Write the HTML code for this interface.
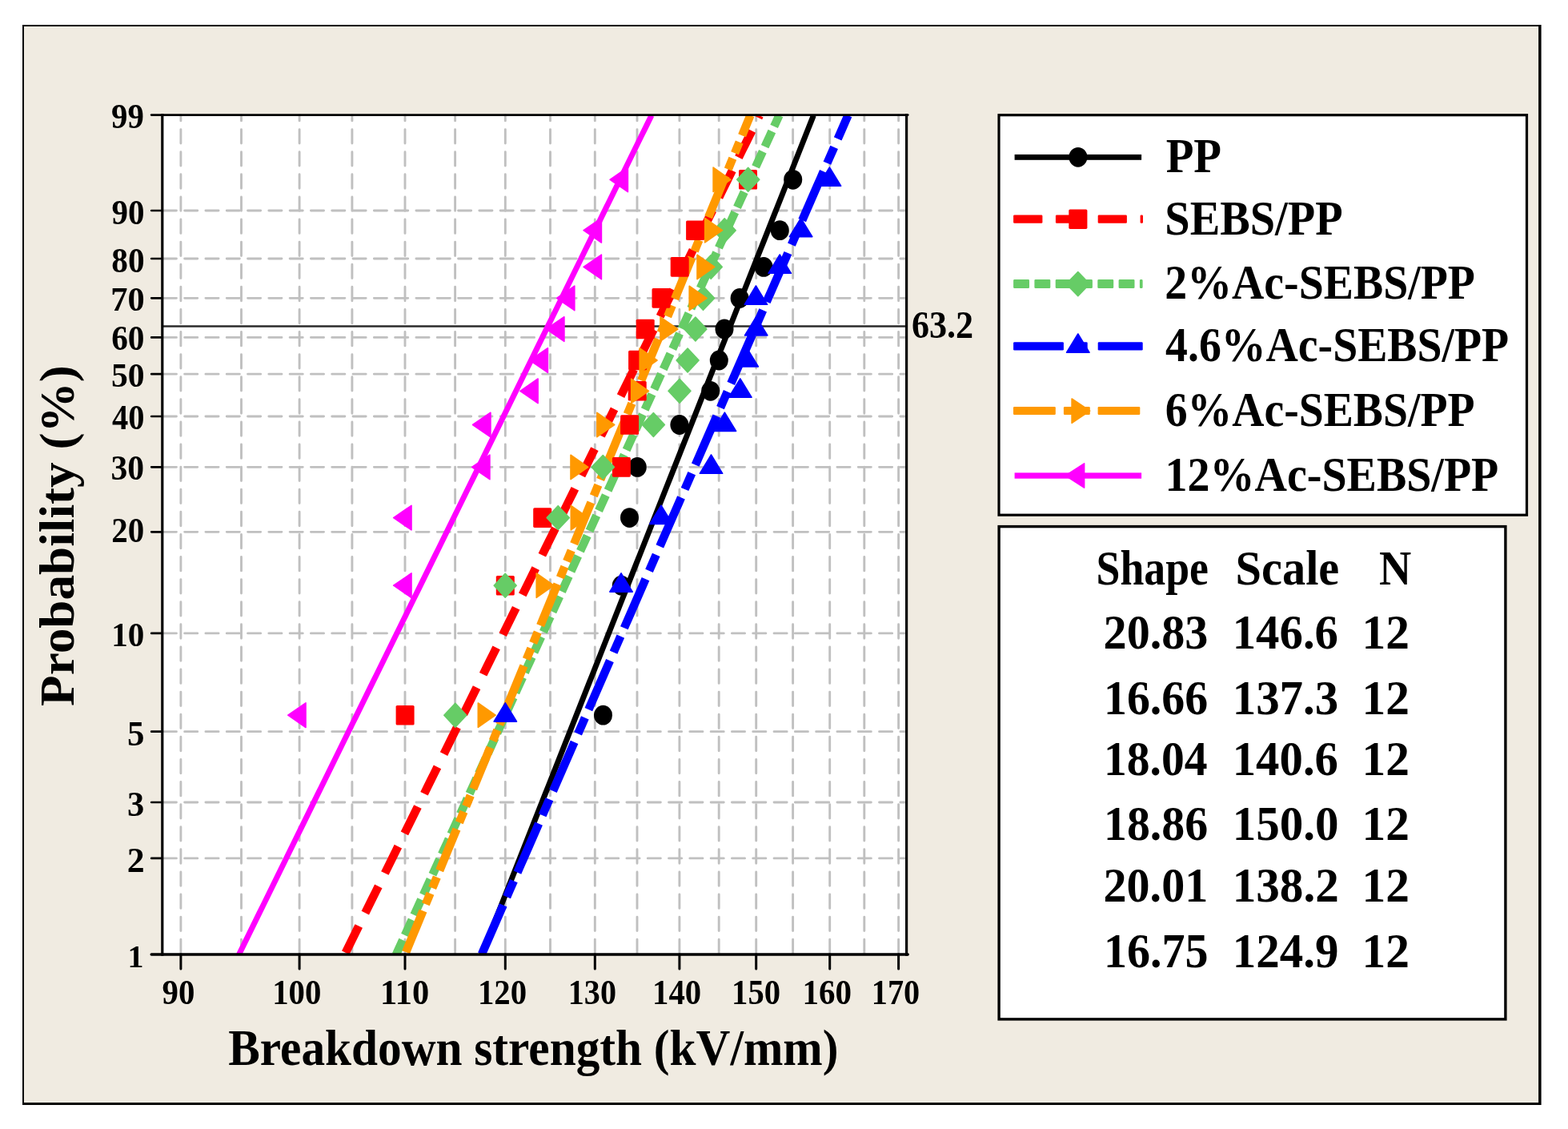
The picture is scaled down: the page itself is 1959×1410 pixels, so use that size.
<!DOCTYPE html>
<html><head><meta charset="utf-8"><title>Weibull probability plot</title>
<style>html,body{margin:0;padding:0;background:#fff;overflow:hidden}svg{display:block}</style>
</head><body>
<svg width="1959" height="1410" viewBox="0 0 1959 1410">
<defs><clipPath id="pc"><rect x="202.8" y="143.6" width="929.8" height="1048.3"/></clipPath></defs>
<rect x="0" y="0" width="1959" height="1410" fill="#ffffff"/>
<rect x="28" y="31" width="1897.6" height="1349" fill="#000"/>
<rect x="30" y="33" width="1892.1" height="1344" fill="#f0ebe1"/>
<rect x="202.8" y="143.6" width="929.8" height="1048.3000000000002" fill="#fff"/>
<path d="M225.9 1190.6V143.6M301.5 1190.6V143.6M374.1 1190.6V143.6M439.9 1190.6V143.6M506.0 1190.6V143.6M568.6 1190.6V143.6M631.3 1190.6V143.6M687.5 1190.6V143.6M743.3 1190.6V143.6M796.0 1190.6V143.6M848.9 1190.6V143.6M898.2 1190.6V143.6M944.7 1190.6V143.6M990.6 1190.6V143.6M1036.7 1190.6V143.6M1079.8 1190.6V143.6M1122.6 1190.6V143.6" stroke="#c0c0c0" stroke-width="2.9" stroke-dasharray="17.4 10.7" stroke-linecap="round" fill="none"/>
<path d="M204.3 263.0H1132.6M204.3 323.0H1132.6M204.3 372.3H1132.6M204.3 421.4H1132.6M204.3 467.2H1132.6M204.3 520.0H1132.6M204.3 583.3H1132.6M204.3 664.3H1132.6M204.3 790.9H1132.6M204.3 913.7H1132.6M204.3 1002.0H1132.6M204.3 1071.9H1132.6" stroke="#c0c0c0" stroke-width="2.8" stroke-dasharray="16.2 10.1" stroke-linecap="round" fill="none"/>
<path d="M202.8 407.5H1132.6" stroke="#2b2b2b" stroke-width="2.7" fill="none"/>
<path d="M601.80 1192.32 L605.26 1183.59 L608.71 1174.85 L612.17 1166.12 L615.62 1157.38 L619.08 1148.65 L622.53 1139.91 L625.99 1131.18 L629.44 1122.44 L632.89 1113.71 L636.35 1104.97 L639.80 1096.24 L643.26 1087.50 L646.71 1078.77 L650.17 1070.03 L653.62 1061.29 L657.08 1052.56 L660.53 1043.82 L663.99 1035.09 L667.44 1026.35 L670.90 1017.62 L674.35 1008.88 L677.81 1000.15 L681.26 991.41 L684.71 982.68 L688.17 973.94 L691.62 965.21 L695.08 956.47 L698.53 947.74 L701.99 939.00 L705.44 930.27 L708.90 921.53 L712.35 912.80 L715.81 904.06 L719.26 895.33 L722.72 886.59 L726.17 877.86 L729.63 869.12 L733.08 860.39 L736.54 851.65 L739.99 842.92 L743.44 834.18 L746.90 825.45 L750.35 816.71 L753.81 807.98 L757.26 799.24 L760.72 790.51 L764.17 781.77 L767.63 773.04 L771.08 764.30 L774.54 755.57 L777.99 746.83 L781.45 738.10 L784.90 729.36 L788.36 720.63 L791.81 711.89 L795.26 703.16 L798.72 694.42 L802.17 685.69 L805.63 676.95 L809.08 668.22 L812.54 659.48 L815.99 650.75 L819.45 642.01 L822.90 633.28 L826.36 624.54 L829.81 615.81 L833.27 607.07 L836.72 598.34 L840.18 589.60 L843.63 580.87 L847.09 572.13 L850.54 563.40 L853.99 554.66 L857.45 545.93 L860.90 537.19 L864.36 528.46 L867.81 519.72 L871.27 510.98 L874.72 502.25 L878.18 493.51 L881.63 484.78 L885.09 476.04 L888.54 467.31 L892.00 458.57 L895.45 449.84 L898.91 441.10 L902.36 432.37 L905.81 423.63 L909.27 414.90 L912.72 406.16 L916.18 397.43 L919.63 388.69 L923.09 379.96 L926.54 371.22 L930.00 362.49 L933.45 353.75 L936.91 345.02 L940.36 336.28 L943.82 327.55 L947.27 318.81 L950.73 310.08 L954.18 301.34 L957.64 292.61 L961.09 283.87 L964.54 275.14 L968.00 266.40 L971.45 257.67 L974.91 248.93 L978.36 240.20 L981.82 231.46 L985.27 222.73 L988.73 213.99 L992.18 205.26 L995.64 196.52 L999.09 187.79 L1002.55 179.05 L1006.00 170.32 L1009.46 161.58 L1012.91 152.85 L1016.36 144.11" stroke="#000000" stroke-width="7" fill="none" stroke-linejoin="round" clip-path="url(#pc)"/>
<path d="M430.53 1192.32 L434.85 1183.59 L439.17 1174.85 L443.49 1166.12 L447.81 1157.38 L452.13 1148.65 L456.45 1139.91 L460.77 1131.18 L465.09 1122.44 L469.41 1113.71 L473.73 1104.97 L478.05 1096.24 L482.37 1087.50 L486.69 1078.77 L491.01 1070.03 L495.33 1061.29 L499.64 1052.56 L503.96 1043.82 L508.28 1035.09 L512.60 1026.35 L516.92 1017.62 L521.24 1008.88 L525.56 1000.15 L529.88 991.41 L534.20 982.68 L538.52 973.94 L542.84 965.21 L547.16 956.47 L551.48 947.74 L555.80 939.00 L560.12 930.27 L564.44 921.53 L568.75 912.80 L573.07 904.06 L577.39 895.33 L581.71 886.59 L586.03 877.86 L590.35 869.12 L594.67 860.39 L598.99 851.65 L603.31 842.92 L607.63 834.18 L611.95 825.45 L616.27 816.71 L620.59 807.98 L624.91 799.24 L629.23 790.51 L633.55 781.77 L637.87 773.04 L642.18 764.30 L646.50 755.57 L650.82 746.83 L655.14 738.10 L659.46 729.36 L663.78 720.63 L668.10 711.89 L672.42 703.16 L676.74 694.42 L681.06 685.69 L685.38 676.95 L689.70 668.22 L694.02 659.48 L698.34 650.75 L702.66 642.01 L706.98 633.28 L711.29 624.54 L715.61 615.81 L719.93 607.07 L724.25 598.34 L728.57 589.60 L732.89 580.87 L737.21 572.13 L741.53 563.40 L745.85 554.66 L750.17 545.93 L754.49 537.19 L758.81 528.46 L763.13 519.72 L767.45 510.98 L771.77 502.25 L776.09 493.51 L780.41 484.78 L784.72 476.04 L789.04 467.31 L793.36 458.57 L797.68 449.84 L802.00 441.10 L806.32 432.37 L810.64 423.63 L814.96 414.90 L819.28 406.16 L823.60 397.43 L827.92 388.69 L832.24 379.96 L836.56 371.22 L840.88 362.49 L845.20 353.75 L849.52 345.02 L853.83 336.28 L858.15 327.55 L862.47 318.81 L866.79 310.08 L871.11 301.34 L875.43 292.61 L879.75 283.87 L884.07 275.14 L888.39 266.40 L892.71 257.67 L897.03 248.93 L901.35 240.20 L905.67 231.46 L909.99 222.73 L914.31 213.99 L918.63 205.26 L922.95 196.52 L927.26 187.79 L931.58 179.05 L935.90 170.32 L940.22 161.58 L944.54 152.85 L948.86 144.11" stroke="#ff0000" stroke-width="10.5" fill="none" stroke-linejoin="round" stroke-dasharray="37.2 18.2" stroke-dashoffset="52.65" clip-path="url(#pc)"/>
<path d="M494.77 1192.32 L498.76 1183.59 L502.75 1174.85 L506.74 1166.12 L510.73 1157.38 L514.72 1148.65 L518.71 1139.91 L522.70 1131.18 L526.69 1122.44 L530.67 1113.71 L534.66 1104.97 L538.65 1096.24 L542.64 1087.50 L546.63 1078.77 L550.62 1070.03 L554.61 1061.29 L558.60 1052.56 L562.59 1043.82 L566.58 1035.09 L570.56 1026.35 L574.55 1017.62 L578.54 1008.88 L582.53 1000.15 L586.52 991.41 L590.51 982.68 L594.50 973.94 L598.49 965.21 L602.48 956.47 L606.47 947.74 L610.45 939.00 L614.44 930.27 L618.43 921.53 L622.42 912.80 L626.41 904.06 L630.40 895.33 L634.39 886.59 L638.38 877.86 L642.37 869.12 L646.36 860.39 L650.34 851.65 L654.33 842.92 L658.32 834.18 L662.31 825.45 L666.30 816.71 L670.29 807.98 L674.28 799.24 L678.27 790.51 L682.26 781.77 L686.24 773.04 L690.23 764.30 L694.22 755.57 L698.21 746.83 L702.20 738.10 L706.19 729.36 L710.18 720.63 L714.17 711.89 L718.16 703.16 L722.15 694.42 L726.13 685.69 L730.12 676.95 L734.11 668.22 L738.10 659.48 L742.09 650.75 L746.08 642.01 L750.07 633.28 L754.06 624.54 L758.05 615.81 L762.04 607.07 L766.02 598.34 L770.01 589.60 L774.00 580.87 L777.99 572.13 L781.98 563.40 L785.97 554.66 L789.96 545.93 L793.95 537.19 L797.94 528.46 L801.93 519.72 L805.91 510.98 L809.90 502.25 L813.89 493.51 L817.88 484.78 L821.87 476.04 L825.86 467.31 L829.85 458.57 L833.84 449.84 L837.83 441.10 L841.81 432.37 L845.80 423.63 L849.79 414.90 L853.78 406.16 L857.77 397.43 L861.76 388.69 L865.75 379.96 L869.74 371.22 L873.73 362.49 L877.72 353.75 L881.70 345.02 L885.69 336.28 L889.68 327.55 L893.67 318.81 L897.66 310.08 L901.65 301.34 L905.64 292.61 L909.63 283.87 L913.62 275.14 L917.61 266.40 L921.59 257.67 L925.58 248.93 L929.57 240.20 L933.56 231.46 L937.55 222.73 L941.54 213.99 L945.53 205.26 L949.52 196.52 L953.51 187.79 L957.50 179.05 L961.48 170.32 L965.47 161.58 L969.46 152.85 L973.45 144.11" stroke="#66cc66" stroke-width="10.5" fill="none" stroke-linejoin="round" stroke-dasharray="21.1 6.66" stroke-dashoffset="1.02" clip-path="url(#pc)"/>
<path d="M601.60 1192.32 L605.42 1183.59 L609.24 1174.85 L613.05 1166.12 L616.87 1157.38 L620.68 1148.65 L624.50 1139.91 L628.31 1131.18 L632.13 1122.44 L635.94 1113.71 L639.76 1104.97 L643.58 1096.24 L647.39 1087.50 L651.21 1078.77 L655.02 1070.03 L658.84 1061.29 L662.65 1052.56 L666.47 1043.82 L670.28 1035.09 L674.10 1026.35 L677.92 1017.62 L681.73 1008.88 L685.55 1000.15 L689.36 991.41 L693.18 982.68 L696.99 973.94 L700.81 965.21 L704.62 956.47 L708.44 947.74 L712.26 939.00 L716.07 930.27 L719.89 921.53 L723.70 912.80 L727.52 904.06 L731.33 895.33 L735.15 886.59 L738.96 877.86 L742.78 869.12 L746.60 860.39 L750.41 851.65 L754.23 842.92 L758.04 834.18 L761.86 825.45 L765.67 816.71 L769.49 807.98 L773.30 799.24 L777.12 790.51 L780.94 781.77 L784.75 773.04 L788.57 764.30 L792.38 755.57 L796.20 746.83 L800.01 738.10 L803.83 729.36 L807.64 720.63 L811.46 711.89 L815.27 703.16 L819.09 694.42 L822.91 685.69 L826.72 676.95 L830.54 668.22 L834.35 659.48 L838.17 650.75 L841.98 642.01 L845.80 633.28 L849.61 624.54 L853.43 615.81 L857.25 607.07 L861.06 598.34 L864.88 589.60 L868.69 580.87 L872.51 572.13 L876.32 563.40 L880.14 554.66 L883.95 545.93 L887.77 537.19 L891.59 528.46 L895.40 519.72 L899.22 510.98 L903.03 502.25 L906.85 493.51 L910.66 484.78 L914.48 476.04 L918.29 467.31 L922.11 458.57 L925.93 449.84 L929.74 441.10 L933.56 432.37 L937.37 423.63 L941.19 414.90 L945.00 406.16 L948.82 397.43 L952.63 388.69 L956.45 379.96 L960.27 371.22 L964.08 362.49 L967.90 353.75 L971.71 345.02 L975.53 336.28 L979.34 327.55 L983.16 318.81 L986.97 310.08 L990.79 301.34 L994.61 292.61 L998.42 283.87 L1002.24 275.14 L1006.05 266.40 L1009.87 257.67 L1013.68 248.93 L1017.50 240.20 L1021.31 231.46 L1025.13 222.73 L1028.95 213.99 L1032.76 205.26 L1036.58 196.52 L1040.39 187.79 L1044.21 179.05 L1048.02 170.32 L1051.84 161.58 L1055.65 152.85 L1059.47 144.11" stroke="#0000ff" stroke-width="10.5" fill="none" stroke-linejoin="round" stroke-dasharray="66.6 11.35 21.8 11.35" stroke-dashoffset="110.20" clip-path="url(#pc)"/>
<path d="M505.89 1192.32 L509.49 1183.59 L513.08 1174.85 L516.68 1166.12 L520.28 1157.38 L523.87 1148.65 L527.47 1139.91 L531.06 1131.18 L534.66 1122.44 L538.26 1113.71 L541.85 1104.97 L545.45 1096.24 L549.05 1087.50 L552.64 1078.77 L556.24 1070.03 L559.83 1061.29 L563.43 1052.56 L567.03 1043.82 L570.62 1035.09 L574.22 1026.35 L577.82 1017.62 L581.41 1008.88 L585.01 1000.15 L588.60 991.41 L592.20 982.68 L595.80 973.94 L599.39 965.21 L602.99 956.47 L606.59 947.74 L610.18 939.00 L613.78 930.27 L617.37 921.53 L620.97 912.80 L624.57 904.06 L628.16 895.33 L631.76 886.59 L635.36 877.86 L638.95 869.12 L642.55 860.39 L646.14 851.65 L649.74 842.92 L653.34 834.18 L656.93 825.45 L660.53 816.71 L664.13 807.98 L667.72 799.24 L671.32 790.51 L674.91 781.77 L678.51 773.04 L682.11 764.30 L685.70 755.57 L689.30 746.83 L692.90 738.10 L696.49 729.36 L700.09 720.63 L703.68 711.89 L707.28 703.16 L710.88 694.42 L714.47 685.69 L718.07 676.95 L721.67 668.22 L725.26 659.48 L728.86 650.75 L732.45 642.01 L736.05 633.28 L739.65 624.54 L743.24 615.81 L746.84 607.07 L750.44 598.34 L754.03 589.60 L757.63 580.87 L761.22 572.13 L764.82 563.40 L768.42 554.66 L772.01 545.93 L775.61 537.19 L779.21 528.46 L782.80 519.72 L786.40 510.98 L789.99 502.25 L793.59 493.51 L797.19 484.78 L800.78 476.04 L804.38 467.31 L807.98 458.57 L811.57 449.84 L815.17 441.10 L818.76 432.37 L822.36 423.63 L825.96 414.90 L829.55 406.16 L833.15 397.43 L836.75 388.69 L840.34 379.96 L843.94 371.22 L847.53 362.49 L851.13 353.75 L854.73 345.02 L858.32 336.28 L861.92 327.55 L865.52 318.81 L869.11 310.08 L872.71 301.34 L876.30 292.61 L879.90 283.87 L883.50 275.14 L887.09 266.40 L890.69 257.67 L894.29 248.93 L897.88 240.20 L901.48 231.46 L905.07 222.73 L908.67 213.99 L912.27 205.26 L915.86 196.52 L919.46 187.79 L923.06 179.05 L926.65 170.32 L930.25 161.58 L933.84 152.85 L937.44 144.11" stroke="#ff9900" stroke-width="10.5" fill="none" stroke-linejoin="round" stroke-dasharray="56 8.7 14.8 7.1 14.8 8.9" stroke-dashoffset="106.89" clip-path="url(#pc)"/>
<path d="M298.43 1192.32 L302.72 1183.59 L307.02 1174.85 L311.32 1166.12 L315.61 1157.38 L319.91 1148.65 L324.20 1139.91 L328.50 1131.18 L332.80 1122.44 L337.09 1113.71 L341.39 1104.97 L345.68 1096.24 L349.98 1087.50 L354.28 1078.77 L358.57 1070.03 L362.87 1061.29 L367.17 1052.56 L371.46 1043.82 L375.76 1035.09 L380.05 1026.35 L384.35 1017.62 L388.65 1008.88 L392.94 1000.15 L397.24 991.41 L401.53 982.68 L405.83 973.94 L410.13 965.21 L414.42 956.47 L418.72 947.74 L423.02 939.00 L427.31 930.27 L431.61 921.53 L435.90 912.80 L440.20 904.06 L444.50 895.33 L448.79 886.59 L453.09 877.86 L457.39 869.12 L461.68 860.39 L465.98 851.65 L470.27 842.92 L474.57 834.18 L478.87 825.45 L483.16 816.71 L487.46 807.98 L491.75 799.24 L496.05 790.51 L500.35 781.77 L504.64 773.04 L508.94 764.30 L513.24 755.57 L517.53 746.83 L521.83 738.10 L526.12 729.36 L530.42 720.63 L534.72 711.89 L539.01 703.16 L543.31 694.42 L547.61 685.69 L551.90 676.95 L556.20 668.22 L560.49 659.48 L564.79 650.75 L569.09 642.01 L573.38 633.28 L577.68 624.54 L581.97 615.81 L586.27 607.07 L590.57 598.34 L594.86 589.60 L599.16 580.87 L603.46 572.13 L607.75 563.40 L612.05 554.66 L616.34 545.93 L620.64 537.19 L624.94 528.46 L629.23 519.72 L633.53 510.98 L637.83 502.25 L642.12 493.51 L646.42 484.78 L650.71 476.04 L655.01 467.31 L659.31 458.57 L663.60 449.84 L667.90 441.10 L672.19 432.37 L676.49 423.63 L680.79 414.90 L685.08 406.16 L689.38 397.43 L693.68 388.69 L697.97 379.96 L702.27 371.22 L706.56 362.49 L710.86 353.75 L715.16 345.02 L719.45 336.28 L723.75 327.55 L728.05 318.81 L732.34 310.08 L736.64 301.34 L740.93 292.61 L745.23 283.87 L749.53 275.14 L753.82 266.40 L758.12 257.67 L762.41 248.93 L766.71 240.20 L771.01 231.46 L775.30 222.73 L779.60 213.99 L783.90 205.26 L788.19 196.52 L792.49 187.79 L796.78 179.05 L801.08 170.32 L805.38 161.58 L809.67 152.85 L813.97 144.11" stroke="#ff00ff" stroke-width="7" fill="none" stroke-linejoin="round" clip-path="url(#pc)"/>
<ellipse cx="753.5" cy="893.2" rx="11.5" ry="12.4" fill="#000000"/>
<ellipse cx="776.3" cy="731.2" rx="11.5" ry="12.4" fill="#000000"/>
<ellipse cx="786.5" cy="646.6" rx="11.5" ry="12.4" fill="#000000"/>
<ellipse cx="796.3" cy="583.4" rx="11.5" ry="12.4" fill="#000000"/>
<ellipse cx="848.9" cy="530.5" rx="11.5" ry="12.4" fill="#000000"/>
<ellipse cx="887.7" cy="488.3" rx="11.5" ry="12.4" fill="#000000"/>
<ellipse cx="898.3" cy="450.0" rx="11.5" ry="12.4" fill="#000000"/>
<ellipse cx="905.0" cy="411.0" rx="11.5" ry="12.4" fill="#000000"/>
<ellipse cx="924.1" cy="372.4" rx="11.5" ry="12.4" fill="#000000"/>
<ellipse cx="954.1" cy="333.4" rx="11.5" ry="12.4" fill="#000000"/>
<ellipse cx="974.3" cy="287.7" rx="11.5" ry="12.4" fill="#000000"/>
<ellipse cx="990.7" cy="224.3" rx="11.5" ry="12.4" fill="#000000"/>
<rect x="494.6" y="880.9" width="23.0" height="24.6" rx="1.6" fill="#ff0000"/>
<rect x="619.8" y="718.9" width="23.0" height="24.6" rx="1.6" fill="#ff0000"/>
<rect x="666.2" y="634.3" width="23.0" height="24.6" rx="1.6" fill="#ff0000"/>
<rect x="764.9" y="571.1" width="23.0" height="24.6" rx="1.6" fill="#ff0000"/>
<rect x="775.1" y="518.2" width="23.0" height="24.6" rx="1.6" fill="#ff0000"/>
<rect x="784.7" y="476.0" width="23.0" height="24.6" rx="1.6" fill="#ff0000"/>
<rect x="785.1" y="437.7" width="23.0" height="24.6" rx="1.6" fill="#ff0000"/>
<rect x="794.7" y="398.7" width="23.0" height="24.6" rx="1.6" fill="#ff0000"/>
<rect x="814.5" y="360.1" width="23.0" height="24.6" rx="1.6" fill="#ff0000"/>
<rect x="837.7" y="321.1" width="23.0" height="24.6" rx="1.6" fill="#ff0000"/>
<rect x="857.1" y="275.4" width="23.0" height="24.6" rx="1.6" fill="#ff0000"/>
<rect x="923.0" y="212.0" width="23.0" height="24.6" rx="1.6" fill="#ff0000"/>
<path d="M554.8 893.2L568.8 878.3L582.8 893.2L568.8 908.1Z" fill="#66cc66" stroke="#66cc66" stroke-width="1.6" stroke-linejoin="round"/>
<path d="M617.2 731.2L631.2 716.3L645.2 731.2L631.2 746.1Z" fill="#66cc66" stroke="#66cc66" stroke-width="1.6" stroke-linejoin="round"/>
<path d="M683.2 646.6L697.2 631.7L711.2 646.6L697.2 661.5Z" fill="#66cc66" stroke="#66cc66" stroke-width="1.6" stroke-linejoin="round"/>
<path d="M739.2 583.4L753.3 568.5L767.3 583.4L753.3 598.3Z" fill="#66cc66" stroke="#66cc66" stroke-width="1.6" stroke-linejoin="round"/>
<path d="M802.4 530.5L816.4 515.6L830.4 530.5L816.4 545.4Z" fill="#66cc66" stroke="#66cc66" stroke-width="1.6" stroke-linejoin="round"/>
<path d="M835.0 488.3L849.0 473.4L863.0 488.3L849.0 503.2Z" fill="#66cc66" stroke="#66cc66" stroke-width="1.6" stroke-linejoin="round"/>
<path d="M845.1 450.0L859.1 435.1L873.1 450.0L859.1 464.9Z" fill="#66cc66" stroke="#66cc66" stroke-width="1.6" stroke-linejoin="round"/>
<path d="M854.9 411.0L868.9 396.1L882.9 411.0L868.9 425.9Z" fill="#66cc66" stroke="#66cc66" stroke-width="1.6" stroke-linejoin="round"/>
<path d="M864.5 372.4L878.5 357.5L892.5 372.4L878.5 387.3Z" fill="#66cc66" stroke="#66cc66" stroke-width="1.6" stroke-linejoin="round"/>
<path d="M874.2 333.4L888.2 318.5L902.2 333.4L888.2 348.3Z" fill="#66cc66" stroke="#66cc66" stroke-width="1.6" stroke-linejoin="round"/>
<path d="M891.2 287.7L905.2 272.8L919.2 287.7L905.2 302.6Z" fill="#66cc66" stroke="#66cc66" stroke-width="1.6" stroke-linejoin="round"/>
<path d="M920.7 224.3L934.7 209.4L948.8 224.3L934.7 239.2Z" fill="#66cc66" stroke="#66cc66" stroke-width="1.6" stroke-linejoin="round"/>
<path d="M631.3 877.8L645.5 901.1L617.1 901.1Z" fill="#0000ff" stroke="#0000ff" stroke-width="1.6" stroke-linejoin="round"/>
<path d="M776.0 715.8L790.2 739.1L761.8 739.1Z" fill="#0000ff" stroke="#0000ff" stroke-width="1.6" stroke-linejoin="round"/>
<path d="M826.0 631.2L840.2 654.5L811.8 654.5Z" fill="#0000ff" stroke="#0000ff" stroke-width="1.6" stroke-linejoin="round"/>
<path d="M888.5 568.0L902.7 591.3L874.3 591.3Z" fill="#0000ff" stroke="#0000ff" stroke-width="1.6" stroke-linejoin="round"/>
<path d="M905.4 515.1L919.6 538.4L891.2 538.4Z" fill="#0000ff" stroke="#0000ff" stroke-width="1.6" stroke-linejoin="round"/>
<path d="M924.8 472.9L939.0 496.2L910.6 496.2Z" fill="#0000ff" stroke="#0000ff" stroke-width="1.6" stroke-linejoin="round"/>
<path d="M933.2 434.6L947.4 457.9L919.0 457.9Z" fill="#0000ff" stroke="#0000ff" stroke-width="1.6" stroke-linejoin="round"/>
<path d="M944.7 395.6L958.9 418.9L930.5 418.9Z" fill="#0000ff" stroke="#0000ff" stroke-width="1.6" stroke-linejoin="round"/>
<path d="M944.4 357.0L958.6 380.3L930.2 380.3Z" fill="#0000ff" stroke="#0000ff" stroke-width="1.6" stroke-linejoin="round"/>
<path d="M974.2 318.0L988.4 341.3L960.0 341.3Z" fill="#0000ff" stroke="#0000ff" stroke-width="1.6" stroke-linejoin="round"/>
<path d="M1000.6 272.3L1014.8 295.6L986.4 295.6Z" fill="#0000ff" stroke="#0000ff" stroke-width="1.6" stroke-linejoin="round"/>
<path d="M1036.4 208.9L1050.6 232.2L1022.2 232.2Z" fill="#0000ff" stroke="#0000ff" stroke-width="1.6" stroke-linejoin="round"/>
<path d="M597.3 878.0L619.1 893.2L597.3 908.4Z" fill="#ff9900" stroke="#ff9900" stroke-width="1.6" stroke-linejoin="round"/>
<path d="M670.2 716.0L692.0 731.2L670.2 746.4Z" fill="#ff9900" stroke="#ff9900" stroke-width="1.6" stroke-linejoin="round"/>
<path d="M713.3 631.4L735.1 646.6L713.3 661.8Z" fill="#ff9900" stroke="#ff9900" stroke-width="1.6" stroke-linejoin="round"/>
<path d="M713.0 568.2L734.8 583.4L713.0 598.6Z" fill="#ff9900" stroke="#ff9900" stroke-width="1.6" stroke-linejoin="round"/>
<path d="M745.9 515.3L767.7 530.5L745.9 545.7Z" fill="#ff9900" stroke="#ff9900" stroke-width="1.6" stroke-linejoin="round"/>
<path d="M788.7 473.1L810.5 488.3L788.7 503.5Z" fill="#ff9900" stroke="#ff9900" stroke-width="1.6" stroke-linejoin="round"/>
<path d="M799.2 434.8L821.0 450.0L799.2 465.2Z" fill="#ff9900" stroke="#ff9900" stroke-width="1.6" stroke-linejoin="round"/>
<path d="M825.0 395.8L846.8 411.0L825.0 426.2Z" fill="#ff9900" stroke="#ff9900" stroke-width="1.6" stroke-linejoin="round"/>
<path d="M861.2 357.2L883.0 372.4L861.2 387.6Z" fill="#ff9900" stroke="#ff9900" stroke-width="1.6" stroke-linejoin="round"/>
<path d="M871.0 318.2L892.8 333.4L871.0 348.6Z" fill="#ff9900" stroke="#ff9900" stroke-width="1.6" stroke-linejoin="round"/>
<path d="M880.7 272.5L902.5 287.7L880.7 302.9Z" fill="#ff9900" stroke="#ff9900" stroke-width="1.6" stroke-linejoin="round"/>
<path d="M891.1 209.1L912.9 224.3L891.1 239.5Z" fill="#ff9900" stroke="#ff9900" stroke-width="1.6" stroke-linejoin="round"/>
<path d="M382.0 877.9L359.8 893.2L382.0 908.5Z" fill="#ff00ff" stroke="#ff00ff" stroke-width="1.6" stroke-linejoin="round"/>
<path d="M514.0 715.9L491.7 731.2L514.0 746.5Z" fill="#ff00ff" stroke="#ff00ff" stroke-width="1.6" stroke-linejoin="round"/>
<path d="M514.0 631.3L491.7 646.6L514.0 661.9Z" fill="#ff00ff" stroke="#ff00ff" stroke-width="1.6" stroke-linejoin="round"/>
<path d="M611.9 568.1L589.6 583.4L611.9 598.7Z" fill="#ff00ff" stroke="#ff00ff" stroke-width="1.6" stroke-linejoin="round"/>
<path d="M612.9 515.2L590.6 530.5L612.9 545.8Z" fill="#ff00ff" stroke="#ff00ff" stroke-width="1.6" stroke-linejoin="round"/>
<path d="M672.1 473.0L649.9 488.3L672.1 503.6Z" fill="#ff00ff" stroke="#ff00ff" stroke-width="1.6" stroke-linejoin="round"/>
<path d="M684.4 434.7L662.1 450.0L684.4 465.3Z" fill="#ff00ff" stroke="#ff00ff" stroke-width="1.6" stroke-linejoin="round"/>
<path d="M704.9 395.7L682.6 411.0L704.9 426.3Z" fill="#ff00ff" stroke="#ff00ff" stroke-width="1.6" stroke-linejoin="round"/>
<path d="M717.8 357.1L695.5 372.4L717.8 387.7Z" fill="#ff00ff" stroke="#ff00ff" stroke-width="1.6" stroke-linejoin="round"/>
<path d="M751.4 318.1L729.1 333.4L751.4 348.7Z" fill="#ff00ff" stroke="#ff00ff" stroke-width="1.6" stroke-linejoin="round"/>
<path d="M751.4 272.4L729.1 287.7L751.4 303.0Z" fill="#ff00ff" stroke="#ff00ff" stroke-width="1.6" stroke-linejoin="round"/>
<path d="M784.4 209.0L762.1 224.3L784.4 239.6Z" fill="#ff00ff" stroke="#ff00ff" stroke-width="1.6" stroke-linejoin="round"/>
<path d="M202.8 142.1V1193.7" stroke="#000" stroke-width="3.2" fill="none"/>
<path d="M1132.6 142.1V1193.7" stroke="#000" stroke-width="3.2" fill="none"/>
<path d="M189.2 143.6H1134.1999999999998" stroke="#000" stroke-width="2.9" fill="none" stroke-linecap="round"/>
<path d="M189.2 1191.9H1134.1999999999998" stroke="#000" stroke-width="3.5" fill="none" stroke-linecap="round"/>
<path d="M189.2 263.0H202.8M189.2 323.0H202.8M189.2 372.3H202.8M189.2 421.4H202.8M189.2 467.2H202.8M189.2 520.0H202.8M189.2 583.3H202.8M189.2 664.3H202.8M189.2 790.9H202.8M189.2 913.7H202.8M189.2 1002.0H202.8M189.2 1071.9H202.8" stroke="#000" stroke-width="2.7" stroke-linecap="round" fill="none"/>
<path d="M225.9 1191.9V1210.0M374.1 1191.9V1210.0M506.0 1191.9V1210.0M631.3 1191.9V1210.0M743.3 1191.9V1210.0M848.9 1191.9V1210.0M944.7 1191.9V1210.0M1036.7 1191.9V1210.0M1122.6 1191.9V1210.0" stroke="#000" stroke-width="3.0" stroke-linecap="round" fill="none"/>
<rect x="1248.0" y="143.7" width="659.5" height="499.50000000000006" fill="#fff" stroke="#000" stroke-width="3.2"/>
<rect x="1248.1" y="657.6" width="632.8" height="615.3" fill="#fff" stroke="#000" stroke-width="3.4"/>
<rect x="1267.6" y="192.9" width="158.5" height="6.9" rx="0" fill="#000"/>
<rect x="1266.1" y="268.4" width="36.3" height="10.4" rx="1.3" fill="#ff0000"/>
<rect x="1318.9" y="268.4" width="36.3" height="10.4" rx="1.3" fill="#ff0000"/>
<rect x="1371.7" y="268.4" width="36.2" height="10.4" rx="1.3" fill="#ff0000"/>
<rect x="1424.6" y="268.4" width="3.4" height="10.4" rx="1.3" fill="#ff0000"/>
<rect x="1266.1" y="349.1" width="19.9" height="11.0" rx="1.3" fill="#66cc66"/>
<rect x="1292.4" y="349.1" width="19.9" height="11.0" rx="1.3" fill="#66cc66"/>
<rect x="1318.7" y="349.1" width="19.9" height="11.0" rx="1.3" fill="#66cc66"/>
<rect x="1345.0" y="349.1" width="19.9" height="11.0" rx="1.3" fill="#66cc66"/>
<rect x="1371.3" y="349.1" width="19.9" height="11.0" rx="1.3" fill="#66cc66"/>
<rect x="1397.6" y="349.1" width="19.9" height="11.0" rx="1.3" fill="#66cc66"/>
<rect x="1423.9" y="349.1" width="3.7" height="11.0" rx="1.3" fill="#66cc66"/>
<rect x="1266.1" y="427.2" width="62.8" height="10.4" rx="1.3" fill="#0000ff"/>
<rect x="1340.6" y="427.2" width="18.1" height="10.4" rx="1.3" fill="#0000ff"/>
<rect x="1371.7" y="427.2" width="56.0" height="10.4" rx="1.3" fill="#0000ff"/>
<rect x="1266.0" y="507.9" width="52.8" height="10.1" rx="1.3" fill="#ff9900"/>
<rect x="1328.9" y="507.9" width="32.9" height="10.1" rx="1.3" fill="#ff9900"/>
<rect x="1371.6" y="507.9" width="52.7" height="10.1" rx="1.3" fill="#ff9900"/>
<rect x="1267.6" y="590.4" width="158.5" height="7.3" rx="0" fill="#ff00ff"/>
<ellipse cx="1346.9" cy="196.3" rx="11.5" ry="12.4" fill="#000000"/>
<rect x="1335.3" y="261.4" width="23.1" height="24.5" rx="1.6" fill="#ff0000"/>
<path d="M1332.2 354.6L1346.8 339.5L1361.2 354.6L1346.8 369.7Z" fill="#66cc66" stroke="#66cc66" stroke-width="1.6" stroke-linejoin="round"/>
<path d="M1346.8 417.0L1361.0 440.2L1332.6 440.2Z" fill="#0000ff" stroke="#0000ff" stroke-width="1.6" stroke-linejoin="round"/>
<path d="M1339.1 498.0L1361.7 513.1L1339.1 528.3Z" fill="#ff9900" stroke="#ff9900" stroke-width="1.6" stroke-linejoin="round"/>
<path d="M1354.6 578.8L1331.3 594.0L1354.6 609.1Z" fill="#ff00ff" stroke="#ff00ff" stroke-width="1.6" stroke-linejoin="round"/>
<g font-family="'Liberation Serif', 'Times New Roman', serif" font-weight="bold" fill="#000">
<text transform="translate(139.00 159.56) scale(0.9217 1)" font-size="44.35">99</text>
<text transform="translate(139.49 279.56) scale(0.9429 1)" font-size="43.56">90</text>
<text transform="translate(139.24 339.56) scale(0.9363 1)" font-size="44.15">80</text>
<text transform="translate(138.18 388.47) scale(0.9979 1)" font-size="42.52">70</text>
<text transform="translate(139.19 436.97) scale(0.9533 1)" font-size="43.41">60</text>
<text transform="translate(138.93 483.17) scale(0.9795 1)" font-size="42.52">50</text>
<text transform="translate(140.03 536.36) scale(0.9175 1)" font-size="44.15">40</text>
<text transform="translate(138.52 599.36) scale(0.9438 1)" font-size="44.15">30</text>
<text transform="translate(139.18 676.77) scale(0.9473 1)" font-size="43.26">20</text>
<text transform="translate(139.21 806.98) scale(0.9816 1)" font-size="41.93">10</text>
<text transform="translate(158.88 930.66) scale(0.9866 1)" font-size="43.61">5</text>
<text transform="translate(158.98 1019.25) scale(0.9525 1)" font-size="44.64">3</text>
<text transform="translate(158.76 1089.20) scale(1.0116 1)" font-size="43.35">2</text>
<text transform="translate(159.50 1207.80) scale(0.9728 1)" font-size="41.06">1</text>
<text transform="translate(202.60 1254.17) scale(0.9444 1)" font-size="43.26">90</text>
<text transform="translate(340.14 1254.17) scale(0.9434 1)" font-size="43.26">100</text>
<text transform="translate(474.91 1254.17) scale(0.9808 1)" font-size="43.26">110</text>
<text transform="translate(596.94 1254.17) scale(0.9434 1)" font-size="43.26">120</text>
<text transform="translate(709.79 1254.17) scale(0.9283 1)" font-size="43.26">130</text>
<text transform="translate(815.04 1254.17) scale(0.9417 1)" font-size="43.26">140</text>
<text transform="translate(914.05 1254.17) scale(0.9400 1)" font-size="43.26">150</text>
<text transform="translate(1002.52 1254.17) scale(0.9484 1)" font-size="43.26">160</text>
<text transform="translate(1088.78 1254.17) scale(0.9300 1)" font-size="43.26">170</text>
<text transform="translate(1138.90 422.23) scale(0.9273 1)" font-size="47.63">63.2</text>
<text transform="translate(285.29 1330.20) scale(0.9311 1)" font-size="63.70">Breakdown strength (kV/mm)</text>
<text transform="translate(1456.63 215.20) scale(0.9242 1)" font-size="61.50">PP</text>
<text transform="translate(1455.31 292.80) scale(0.9159 1)" font-size="61.50">SEBS/PP</text>
<text transform="translate(1455.25 373.10) scale(0.9080 1)" font-size="61.50">2%Ac-SEBS/PP</text>
<text transform="translate(1456.12 450.90) scale(0.9070 1)" font-size="61.50">4.6%Ac-SEBS/PP</text>
<text transform="translate(1455.71 531.50) scale(0.9057 1)" font-size="61.50">6%Ac-SEBS/PP</text>
<text transform="translate(1455.52 612.50) scale(0.9106 1)" font-size="61.50">12%Ac-SEBS/PP</text>
<text transform="translate(1369.55 729.60) scale(0.8743 1)" font-size="61.50">Shape</text>
<text transform="translate(1543.61 729.60) scale(0.9492 1)" font-size="61.50">Scale</text>
<text transform="translate(1723.04 729.60) scale(0.9049 1)" font-size="61.50">N</text>
<text transform="translate(1378.56 810.00) scale(0.9508 1)" font-size="61.20">20.83</text>
<text transform="translate(1539.70 810.00) scale(0.9609 1)" font-size="61.20">146.6</text>
<text transform="translate(1701.55 810.00) scale(0.9707 1)" font-size="61.20">12</text>
<text transform="translate(1378.97 891.50) scale(0.9456 1)" font-size="61.20">16.66</text>
<text transform="translate(1539.68 891.50) scale(0.9631 1)" font-size="61.20">137.3</text>
<text transform="translate(1701.55 891.50) scale(0.9707 1)" font-size="61.20">12</text>
<text transform="translate(1378.99 968.30) scale(0.9412 1)" font-size="61.20">18.04</text>
<text transform="translate(1539.70 968.30) scale(0.9609 1)" font-size="61.20">140.6</text>
<text transform="translate(1701.55 968.30) scale(0.9707 1)" font-size="61.20">12</text>
<text transform="translate(1378.97 1049.00) scale(0.9456 1)" font-size="61.20">18.86</text>
<text transform="translate(1539.68 1049.00) scale(0.9649 1)" font-size="61.20">150.0</text>
<text transform="translate(1701.55 1049.00) scale(0.9707 1)" font-size="61.20">12</text>
<text transform="translate(1378.56 1126.10) scale(0.9489 1)" font-size="61.20">20.01</text>
<text transform="translate(1539.66 1126.10) scale(0.9672 1)" font-size="61.20">138.2</text>
<text transform="translate(1701.55 1126.10) scale(0.9707 1)" font-size="61.20">12</text>
<text transform="translate(1378.95 1207.60) scale(0.9491 1)" font-size="61.20">16.75</text>
<text transform="translate(1539.68 1207.60) scale(0.9640 1)" font-size="61.20">124.9</text>
<text transform="translate(1701.55 1207.60) scale(0.9707 1)" font-size="61.20">12</text>
<text transform="translate(92.2 881.88) scale(0.9599 0.9993) rotate(-90)" font-size="63.3">Probability (%)</text>
</g>
</svg>
</body></html>
